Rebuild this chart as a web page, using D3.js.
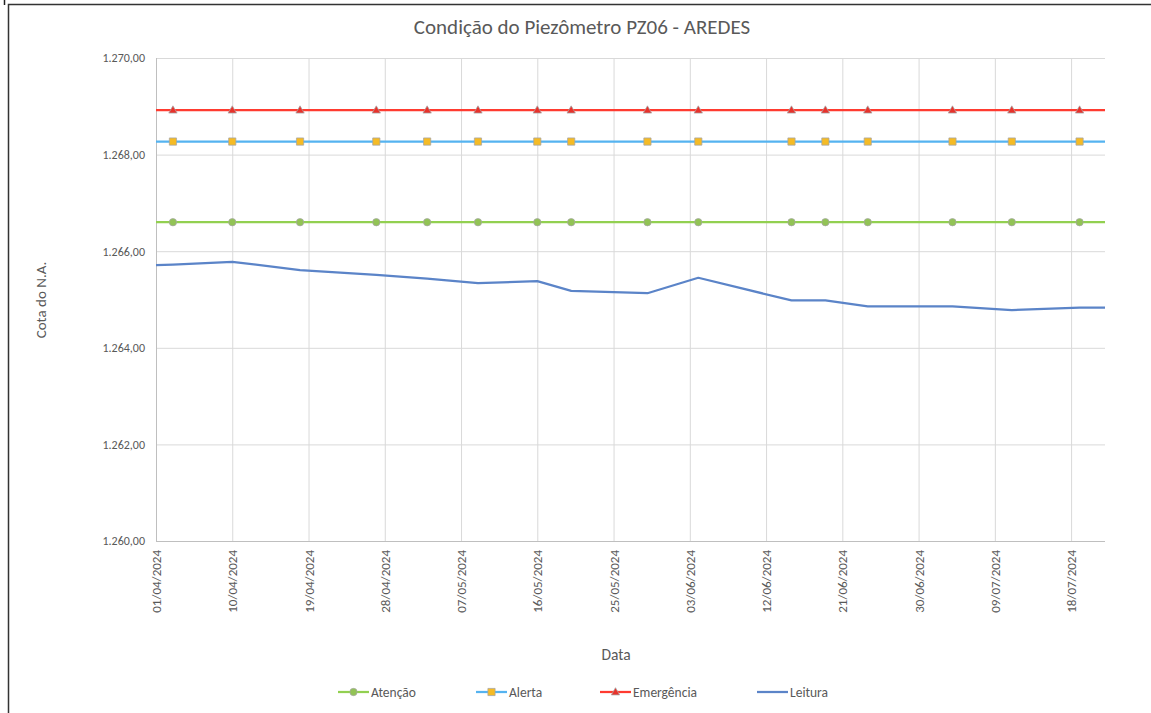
<!DOCTYPE html>
<html>
<head>
<meta charset="utf-8">
<script src="https://cdn.jsdelivr.net/npm/d3@7"></script>
<style>
  html, body { margin: 0; padding: 0; background: #fff; }
  svg { display: block; }
  text { font-family: Carlito, Calibri, Lato, "Open Sans", sans-serif; fill: #595959; }
</style>
</head>
<body>
<svg id="chart" width="1151" height="713"></svg>
<script>
// Reading dates (dd/mm/yyyy); first and last fall just outside the visible window
const dates = [
  "28/03/2024", "03/04/2024", "10/04/2024", "18/04/2024", "27/04/2024", "03/05/2024",
  "09/05/2024", "16/05/2024", "20/05/2024", "29/05/2024", "04/06/2024", "15/06/2024",
  "19/06/2024", "24/06/2024", "04/07/2024", "11/07/2024", "19/07/2024", "26/07/2024"
];
// Water level readings (m)
const leitura = [
  1265.69, 1265.72, 1265.78, 1265.61, 1265.51, 1265.43,
  1265.34, 1265.38, 1265.18, 1265.13, 1265.45, 1264.98,
  1264.98, 1264.86, 1264.86, 1264.78, 1264.83, 1264.83
];
// Threshold levels (m)
const atencao = dates.map(() => 1266.60);
const alerta = dates.map(() => 1268.27);
const emergencia = dates.map(() => 1268.92);

const xTickLabels = [
  "01/04/2024", "10/04/2024", "19/04/2024", "28/04/2024", "07/05/2024", "16/05/2024",
  "25/05/2024", "03/06/2024", "12/06/2024", "21/06/2024", "30/06/2024", "09/07/2024", "18/07/2024"
];
const yTicks = [1260, 1262, 1264, 1266, 1268, 1270];
const xDomain = ["01/04/2024", "22/07/2024"];
const yDomain = [1260, 1270];

const parse = d3.utcParse("%d/%m/%Y");
const ptBR = d3.formatLocale({ decimal: ",", thousands: ".", grouping: [3], currency: ["R$", ""] });
const fmtY = ptBR.format(",.2f");

const svg = d3.select("#chart");
const plot = { left: 156, right: 1105, top: 58, bottom: 541 };

const x = d3.scaleUtc().domain(xDomain.map(parse)).range([plot.left, plot.right]);
const y = d3.scaleLinear().domain(yDomain).range([plot.bottom, plot.top]);

// Outer frame
svg.append("line").attr("x1", 4.5).attr("x2", 4.5).attr("y1", 0).attr("y2", 5)
  .attr("stroke", "#222").attr("stroke-width", 1.5);
svg.append("path").attr("d", "M8.5,713 V4.5 H1151")
  .attr("fill", "none").attr("stroke", "#333").attr("stroke-width", 1.5);

// Title
svg.append("text").attr("x", 582).attr("y", 34).attr("text-anchor", "middle")
  .style("font-size", "21px").text("Condição do Piezômetro PZ06 - AREDES");

// Horizontal gridlines + y labels
const yAxis = d3.axisLeft(y).tickValues(yTicks).tickSize(-(plot.right - plot.left)).tickFormat(fmtY).tickPadding(11);
const gy = svg.append("g").attr("transform", `translate(${plot.left},0)`).call(yAxis);
gy.select(".domain").remove();
gy.selectAll(".tick line").attr("stroke", "#D9D9D9").attr("stroke-width", 1);
gy.selectAll(".tick text").style("font-size", "12px").style("fill", "#595959")
  .style("font-family", "Carlito, Calibri, Lato, sans-serif");

// Vertical gridlines + x labels
const xTickDates = xTickLabels.map(parse);
const xAxis = d3.axisBottom(x).tickValues(xTickDates).tickSize(-(plot.bottom - plot.top))
  .tickFormat(d3.utcFormat("%d/%m/%Y"));
const gx = svg.append("g").attr("transform", `translate(0,${plot.bottom})`).call(xAxis);
gx.select(".domain").remove();
gx.selectAll(".tick line").attr("stroke", "#D9D9D9").attr("stroke-width", 1);
gx.selectAll(".tick text")
  .style("font-size", "13px").style("fill", "#595959")
  .style("font-family", "Carlito, Calibri, Lato, sans-serif")
  .attr("text-anchor", "end").attr("dominant-baseline", "central")
  .attr("transform", "translate(0,9) rotate(-90)")
  .attr("x", 0).attr("y", 0).attr("dy", null);

// Axis lines
svg.append("line").attr("x1", plot.left + 0.5).attr("x2", plot.left + 0.5)
  .attr("y1", plot.top).attr("y2", plot.bottom).attr("stroke", "#BFBFBF");
svg.append("line").attr("x1", plot.left).attr("x2", plot.right)
  .attr("y1", plot.bottom + 0.5).attr("y2", plot.bottom + 0.5).attr("stroke", "#BFBFBF");

// Axis titles
svg.append("text").attr("transform", "translate(46,300) rotate(-90)").attr("text-anchor", "middle")
  .style("font-size", "15px").text("Cota do N.A.");
svg.append("text").attr("x", 616).attr("y", 660).attr("text-anchor", "middle")
  .style("font-size", "15.5px").text("Data");

// Series
svg.append("clipPath").attr("id", "plotClip").append("rect")
  .attr("x", plot.left).attr("y", plot.top - 10)
  .attr("width", plot.right - plot.left).attr("height", plot.bottom - plot.top + 10);

const series = [
  { name: "Atenção", values: atencao, color: "#92D050", marker: "circle", fill: "#92C355" },
  { name: "Alerta", values: alerta, color: "#55B3F0", marker: "square", fill: "#F5BB25" },
  { name: "Emergência", values: emergencia, color: "#FF3B30", marker: "triangle", fill: "#E8322B" },
  { name: "Leitura", values: leitura, color: "#5B84C8", marker: null }
];

const line = d3.line().x(d => x(d[0])).y(d => y(d[1]));
const gSeries = svg.append("g").attr("clip-path", "url(#plotClip)");
const symbolFor = { circle: d3.symbolCircle, square: d3.symbolSquare, triangle: d3.symbolTriangle };
const sizeFor = { circle: 42, square: 52, triangle: 30 };

series.forEach(s => {
  const pts = dates.map((d, i) => [parse(d), s.values[i]]);
  gSeries.append("path").datum(pts).attr("d", line)
    .attr("fill", "none").attr("stroke", s.color).attr("stroke-width", 2.25)
    .attr("stroke-linejoin", "round");
  if (s.marker) {
    gSeries.selectAll(null).data(pts).join("path")
      .attr("d", d3.symbol(symbolFor[s.marker], sizeFor[s.marker]))
      .attr("transform", d => `translate(${x(d[0])},${y(d[1]) + (s.marker === "triangle" ? 0.5 : 0)})`)
      .attr("fill", s.fill).attr("stroke", "#A5A5A5").attr("stroke-width", 0.75);
  }
});

// Legend
const legendX = [338, 476, 600, 757];
const legend = svg.append("g");
series.forEach((s, i) => {
  const g = legend.append("g").attr("transform", `translate(${legendX[i]},692)`);
  g.append("line").attr("x1", 0).attr("x2", 31).attr("y1", 0).attr("y2", 0)
    .attr("stroke", s.color).attr("stroke-width", 2.25);
  if (s.marker) {
    g.append("path").attr("d", d3.symbol(symbolFor[s.marker], sizeFor[s.marker]))
      .attr("transform", `translate(15.5,${s.marker === "triangle" ? 0.5 : 0})`)
      .attr("fill", s.fill).attr("stroke", "#A5A5A5").attr("stroke-width", 0.75);
  }
  g.append("text").attr("x", 33).attr("y", 0).attr("dy", "0.35em")
    .style("font-size", "13.5px").text(s.name);
});
</script>
</body>
</html>
